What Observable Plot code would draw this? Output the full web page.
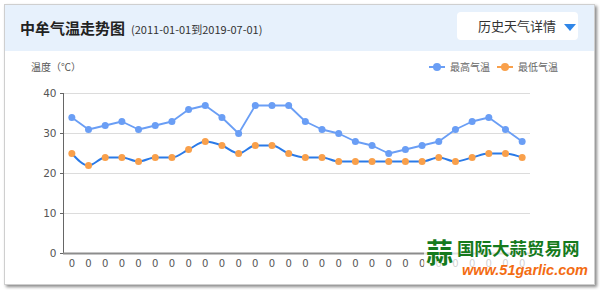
<!DOCTYPE html>
<html><head><meta charset="utf-8">
<script src="https://cdn.jsdelivr.net/npm/d3@7"></script>
<script src="https://cdn.jsdelivr.net/npm/@observablehq/plot@0.6"></script>
<style>
body{margin:0;width:600px;height:290px;background:#fff;font-family:"Noto Sans CJK SC","Noto Sans",sans-serif;overflow:hidden;position:relative}
.card{position:absolute;left:4px;top:4px;width:589px;height:279px;border:1px solid #cfcfcf;box-shadow:2px 2px 3px #8a8a8a;background:#fff}
.head{position:absolute;left:0;top:0;width:589px;height:46px;background:#e7f1fc}
.title{position:absolute;left:15px;top:12px;font-size:15px;font-weight:bold;color:#222;white-space:nowrap}
.sub{font-size:11px;font-weight:normal;color:#333;margin-left:6px}
.btn{position:absolute;left:452px;top:7px;width:121px;height:28px;background:#fff;border-radius:4px}
.btn span{position:absolute;left:21px;top:4px;font-size:13px;color:#333}
.tri{position:absolute;left:107px;top:12px;width:0;height:0;border-left:6px solid transparent;border-right:6px solid transparent;border-top:7px solid #2f86e8}
.ytitle{position:absolute;left:31px;top:59px;font-size:10px;color:#555}
.legend{position:absolute;top:59px;font-size:10px;color:#666;white-space:nowrap}
.sym{position:absolute;top:7px;width:16px;height:1.5px}
.dot{position:absolute;left:4px;top:-3px;width:8px;height:8px;border-radius:50%}
#chart{position:absolute;left:0;top:55px}
.wm{position:absolute;left:424px;top:236px;width:168px;height:47px;background:rgba(255,255,255,0.72)}
.wm .ic{position:absolute;left:2px;top:1px;font-size:27px;font-weight:bold;color:#157a1c;line-height:30px}
.wm .cn{position:absolute;left:33px;top:1px;font-size:17.5px;font-weight:bold;color:#157a1c;line-height:22px;white-space:nowrap}
.wm .en{position:absolute;left:38px;top:25px;font-size:14.5px;font-weight:bold;font-style:italic;color:#f36c12;font-family:"Liberation Sans",sans-serif;line-height:18px;white-space:nowrap}
</style></head>
<body>
<div class="card">
  <div class="head">
    <div class="title">中牟气温走势图<span class="sub">(2011-01-01到2019-07-01)</span></div>
    <div class="btn"><span>历史天气详情</span><div class="tri"></div></div>
  </div>
</div>
<div class="ytitle">温度（℃）</div>
<div class="legend" style="left:429px"><div class="sym" style="left:0;background:#6a9ef5"><div class="dot" style="background:#6a9ef5"></div></div><span style="margin-left:21px">最高气温</span></div>
<div class="legend" style="left:497px"><div class="sym" style="left:0;background:#f9a04b"><div class="dot" style="background:#f9a04b"></div></div><span style="margin-left:21px">最低气温</span></div>
<div id="chart"></div>
<div class="wm"><div class="ic">蒜</div><div class="cn">国际大蒜贸易网</div><div class="en">www.51garlic.com</div></div>
<script>
const xLabels = ["0","0","0","0","0","0","0","0","0","0","0","0","0","0","0","0","0","0","0","0","0","0","0","0","0","0","0","0"];
const highTemps = [34,31,32,33,31,32,33,36,37,34,30,37,37,37,33,31,30,28,27,25,26,27,28,31,33,34,31,28];
const lowTemps  = [25,22,24,24,23,24,24,26,28,27,25,27,27,25,24,24,23,23,23,23,23,23,24,23,24,25,25,24];
const yTicks = [0,10,20,30,40];

const idx = xLabels.map((_, i) => i);
const high = idx.map(i => ({i, v: highTemps[i]}));
const low = idx.map(i => ({i, v: lowTemps[i]}));
const xDomain = [-0.5, xLabels.length - 0.5];

const plot = Plot.plot({
  width: 600, height: 230,
  marginLeft: 63, marginRight: 70, marginTop: 38, marginBottom: 32,
  style: {background: "transparent", fontFamily: "DejaVu Sans, sans-serif"},
  x: {type: "linear", domain: xDomain, axis: null, label: null},
  y: {domain: [0, 40], axis: null, label: null},
  marks: [
    Plot.ruleY(yTicks.filter(t => t > 0), {stroke: "#dcdcdc", strokeWidth: 1}),
    Plot.axisY({ticks: yTicks, label: null, tickSize: 3, tickPadding: 4, stroke: "#666", color: "#555", fontSize: 10.5, tickFormat: d => String(d)}),
    Plot.ruleX([xDomain[0]], {y1: 0, y2: 40, stroke: "#666", strokeWidth: 1}),
    Plot.ruleY([0], {stroke: "#8c8c8c", strokeWidth: 2}),
    Plot.axisX({ticks: idx, label: null, tickSize: 0, tickPadding: 6, fill: "#555", fontSize: 10, tickFormat: i => xLabels[i]}),
    Plot.line(high, {x: "i", y: "v", stroke: "#6a9ef5", strokeWidth: 1.8}),
    Plot.dot(high, {x: "i", y: "v", r: 3.5, fill: "#6a9ef5", stroke: "none"}),
    Plot.line(low, {x: "i", y: "v", stroke: "#2a7ae8", strokeWidth: 2, curve: "monotone-x"}),
    Plot.dot(low, {x: "i", y: "v", r: 3.5, fill: "#f9a04b", stroke: "none"})
  ]
});
document.getElementById("chart").appendChild(plot);
</script>
</body></html>
